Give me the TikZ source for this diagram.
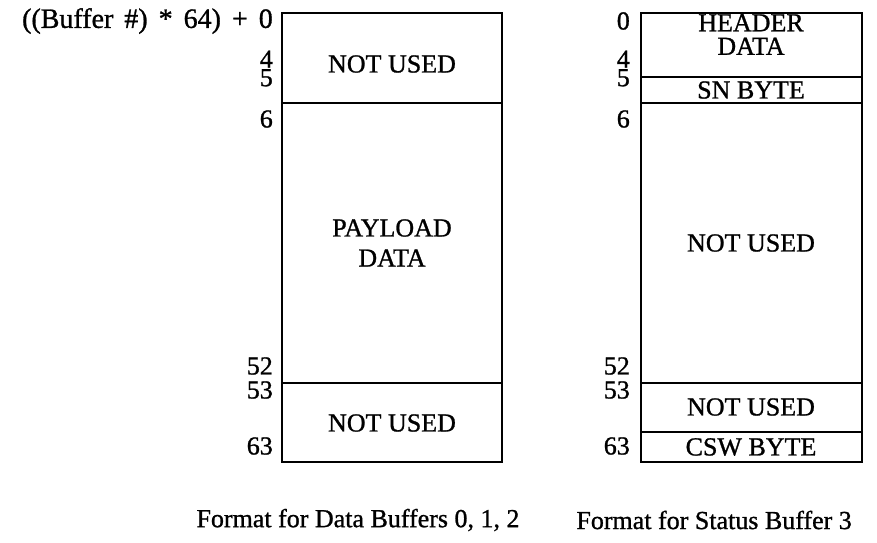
\documentclass[tikz,border=0pt]{standalone}
\usepackage{fontspec}
\setmainfont{Liberation Serif}
\newfontfamily\scanfont{Liberation Serif}[BoldFont={Liberation Serif}, BoldFeatures={FakeBold=1}]
\begin{document}
\begin{tikzpicture}[x=1pt,y=-1pt,
  boxline/.style={line width=2pt},
  txt/.style={font=\scanfont\bfseries\fontsize{26}{28}\selectfont, inner sep=0pt},
  num/.style={txt, anchor=east},
  pair/.style={num, align=right, font=\scanfont\bfseries\fontsize{26}{18.5}\selectfont}]
\useasboundingbox (0,0) rectangle (877,542);
% left buffer
\draw[boxline] (282,13) rectangle (502,462);
\draw[boxline] (282,103) -- (502,103);
\draw[boxline] (282,383) -- (502,383);
% right buffer
\draw[boxline] (641,13) rectangle (862,462);
\draw[boxline] (641,77) -- (862,77);
\draw[boxline] (641,103) -- (862,103);
\draw[boxline] (641,383) -- (862,383);
\draw[boxline] (641,432) -- (862,432);
% left labels
\node[num, font=\scanfont\bfseries\fontsize{28}{30}\selectfont] (lhead) at (273,21) {\spaceskip=11pt\relax ((Buffer \#) * 64) + 0};
\node[pair] (l45) at (273,68.5) {4\\5};
\node[num] (l6) at (273,119) {6};
\node[num] (l52) at (273,366) {52};
\node[num] (l53) at (273,390) {53};
\node[num] (l63) at (273,446) {63};
% right labels
\node[num] (r0) at (630,21) {0};
\node[pair] (r45) at (630,68.5) {4\\5};
\node[num] (r6) at (630,119) {6};
\node[num] (r52) at (630,366) {52};
\node[num] (r53) at (630,390) {53};
\node[num] (r63) at (630,446) {63};
% left contents
\node[txt] (lnu1) at (392,64) {NOT USED};
\node[txt] (lpay) at (392,228) {PAYLOAD};
\node[txt] (ldata) at (392,258) {DATA};
\node[txt] (lnu2) at (392,423) {NOT USED};
% right contents
\node[txt, align=center, font=\scanfont\bfseries\fontsize{26}{23.5}\selectfont] (rhdr) at (751,34.5) {HEADER\\DATA};
\node[txt] (rsn) at (751,90) {SN BYTE};
\node[txt] (rnu1) at (751,243) {NOT USED};
\node[txt] (rnu2) at (751,407) {NOT USED};
\node[txt] (rcsw) at (751,447) {CSW BYTE};
% captions
\node[txt] (cap1) at (358,520) {Format for Data Buffers 0, 1, 2};
\node[txt, anchor=east] (cap2) at (852,520) {Format for Status Buffer 3};
\end{tikzpicture}
\end{document}
